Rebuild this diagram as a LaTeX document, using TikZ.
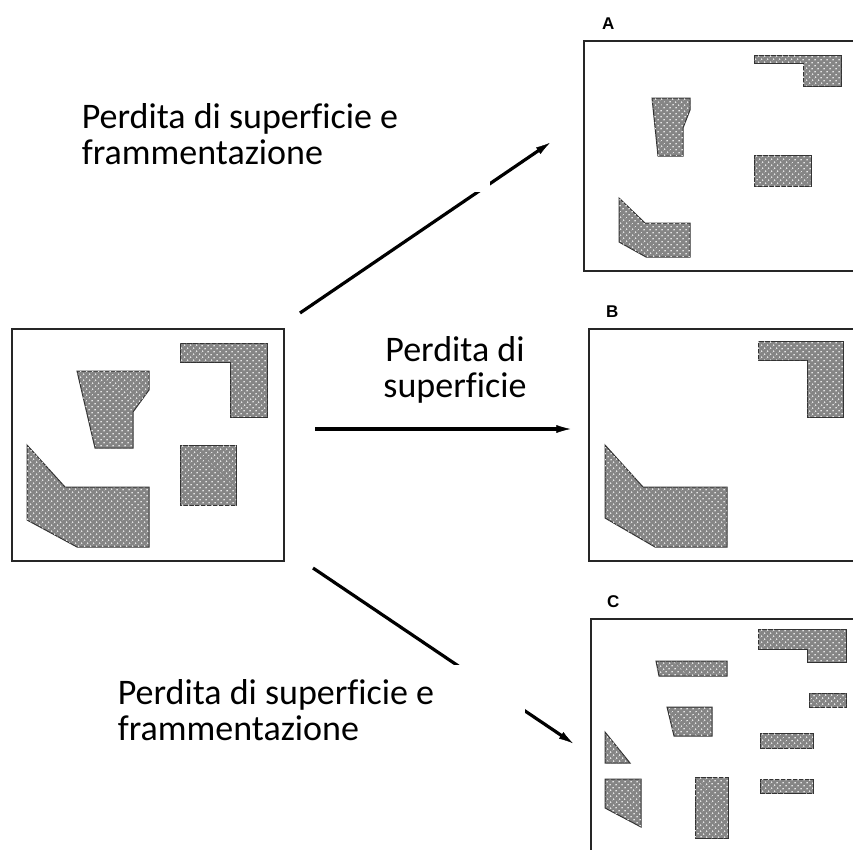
\documentclass[tikz,border=0pt]{standalone}
\usepackage{fontspec}
\setmainfont{Carlito}[Ligatures=NoCommon]
\newfontfamily\tagfont{Liberation Sans}
\usetikzlibrary{positioning, arrows.meta, decorations.markings, patterns.meta}
\tikzstyle{Arrow} = [
line width=3.2pt,
decoration={
markings,
mark=at position 1 with {
\arrow{Latex[length=24pt,width=12pt]}}},
shorten >= 16pt, preaction = {decorate}]
\tikzstyle{Frame} = [draw=black!85, line width=1.4pt, inner sep=0pt, outer sep=0pt, anchor=north west]
\tikzstyle{Patch} = [draw=black!80, line width=1pt, fill=black!48,
postaction={pattern={Dots[radius=1pt, distance=4pt, angle=45]}, pattern color=white!90!black}]
\tikzstyle{Caption} = [font=\fontsize{36}{36}\selectfont, align=flush left, fill=white, inner xsep=4pt]
\tikzstyle{Tag} = [font=\tagfont\bfseries\fontsize{17}{17}\selectfont, inner sep=0pt]

\begin{document}
\begin{tikzpicture}[x=1pt, y=-1pt]
    \useasboundingbox (0,0) rectangle (853,849);
    \clip (0,0) rectangle (853,849);

    \node (orig) [Frame, minimum width=272pt, minimum height=232pt] at (12,329) {};
    \node (fA) [Frame, minimum width=290pt, minimum height=230pt] at (584,41) {};
    \node (fB) [Frame, minimum width=290pt, minimum height=232pt] at (589,329) {};
    \node (fC) [Frame, minimum width=290pt, minimum height=250pt] at (591,619) {};
    \node [Tag, above right=11pt and 18pt of fA.north west] (tagA) {A};
    \node [Tag, above right=11pt and 17pt of fB.north west] (tagB) {B};
    \node [Tag, above right=11pt and 16pt of fC.north west] (tagC) {C};

    % original habitat
    \draw[Patch] (180,343) -- (267,343) -- (267,417) -- (230,417) -- (230,362) -- (180,362) -- cycle;
    \draw[Patch] (77,371) -- (149,371) -- (149,390) -- (133,412) -- (133,448) -- (95,448) -- cycle;
    \draw[Patch] (180,445) rectangle (236,505);
    \draw[Patch] (27,445) -- (65,487) -- (149,487) -- (149,547) -- (77,547) -- (27,520) -- cycle;

    % A
    \draw[Patch] (754,55) -- (841,55) -- (841,86) -- (803,86) -- (803,63) -- (754,63) -- cycle;
    \draw[Patch] (652,98) -- (690,98) -- (690,110) -- (683,128) -- (683,156) -- (658,156) -- cycle;
    \draw[Patch] (754,155) rectangle (811,186);
    \draw[Patch] (619,198) -- (645,223) -- (690,223) -- (690,257) -- (646,257) -- (619,242) -- cycle;

    % B
    \draw[Patch] (758,341) -- (843,341) -- (843,417) -- (807,417) -- (807,360) -- (758,360) -- cycle;
    \draw[Patch] (605,445) -- (643,487) -- (727,487) -- (727,547) -- (655,547) -- (605,518) -- cycle;

    % C
    \draw[Patch] (758,629) -- (846,629) -- (846,662) -- (807,662) -- (807,649) -- (758,649) -- cycle;
    \draw[Patch] (656,661) -- (727,661) -- (727,676) -- (659,676) -- cycle;
    \draw[Patch] (809,693) rectangle (846,707);
    \draw[Patch] (667,707) -- (712,707) -- (712,736) -- (674,736) -- cycle;
    \draw[Patch] (760,733) rectangle (813,748);
    \draw[Patch] (605,732) -- (630,763) -- (605,763) -- cycle;
    \draw[Patch] (605,779) -- (641,779) -- (641,827) -- (605,808) -- cycle;
    \draw[Patch] (695,777) rectangle (728,838);
    \draw[Patch] (760,779) rectangle (813,793);

    \coordinate (a1) at (300,313);
    \coordinate (a2) at (557,138);
    \coordinate (b1) at (315,429);
    \coordinate (b2) at (579,429);
    \coordinate (c1) at (313,568);
    \coordinate (c2) at (580,748);

    \draw[Arrow] (a1) -- (a2);
    \draw[Arrow] (b1) -- (b2);
    \draw[Arrow] (c1) -- (c2);

    \node (loss1) [Caption, anchor=south east, text width=404pt, inner ysep=27pt] at (490,192)
        {Perdita di superficie e\\frammentazione};
    \node (loss2) [font=\fontsize{36}{36}\selectfont, align=center, inner sep=0pt, anchor=south] at (455,403)
        {Perdita di\\superficie};
    \node (loss3) [Caption, anchor=north east, text width=403pt, inner ysep=14pt] at (525,665)
        {Perdita di superficie e\\frammentazione};
\end{tikzpicture}
\end{document}
